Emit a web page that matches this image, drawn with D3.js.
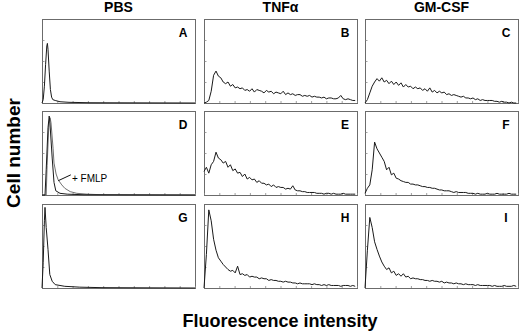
<!DOCTYPE html>
<html>
<head>
<meta charset="utf-8">
<script src="https://cdn.jsdelivr.net/npm/d3@7"></script>
<style>
    html, body { margin: 0; padding: 0; background: #fff; }
    svg { display: block; font-family: "Liberation Sans", Arial, Helvetica, sans-serif; }
    .frame { fill: none; stroke: #6b6b6b; stroke-width: 1; }
    .tick { stroke: #888; stroke-width: 0.8; }
    .curve { fill: none; stroke: #1a1a1a; stroke-width: 1; stroke-linejoin: round; }
    .curve2 { fill: none; stroke: #606060; stroke-width: 0.9; }
    .colTitle { font-size: 14px; font-weight: bold; text-anchor: middle; }
    .letter { font-size: 12px; font-weight: bold; text-anchor: middle; }
    .axisTitle { font-weight: bold; text-anchor: middle; }
</style>
</head>
<body>
<div id="chart"></div>
<script>
'use strict';

// Column titles and panel letters
const columnTitles = ['PBS', 'TNF\u03B1', 'GM-CSF'];
const panelLetters = ['A', 'B', 'C', 'D', 'E', 'F', 'G', 'H', 'I'];

// Narrow peaks: [channel, count %]
const seriesA = [[0, 0], [2, 4], [4, 20], [6, 46], [8, 68], [9, 71], [10, 64], [12, 38], [14, 16], [16, 7], [18, 4], [22, 3], [30, 1.5], [45, 0.8], [80, 0.3], [255, 0]];
const seriesD = [[0, 0], [5, 0], [7, 30], [10, 80], [12, 94], [13, 88], [17, 44], [20, 15], [23, 5], [30, 2], [42, 1], [70, 0.3], [255, 0]];
const seriesDFmlp = [[0, 0], [7, 0], [8.5, 35], [11.5, 85], [13.5, 92], [15, 86], [18.5, 55], [20, 38], [23.5, 25], [27, 18], [33, 12], [38, 8], [47, 4], [58, 2], [75, 1], [100, 0.3], [255, 0]];
const seriesG = [[0, 0], [2, 30], [4, 80], [5, 96], [7, 72], [10, 46], [13, 16], [17, 8], [22, 4], [38, 2], [63, 1], [100, 0.4], [255, 0]];

// Broad histograms: one count % every 4 channels
const seriesB = [0, 1, 3, 14, 33, 38, 32, 30, 25, 23, 25, 20, 22, 18, 19, 17,
    18, 15, 16, 14, 17, 13, 16, 15, 14, 12, 15, 13, 14, 11, 13, 12,
    11, 14, 10, 12, 10, 11, 9, 10, 10, 8, 9, 8, 9, 7, 8, 7,
    7, 6, 7, 5, 6, 6, 5, 5, 6, 9, 5, 4, 5, 4, 3, 3];
const seriesC = [0, 4, 12, 20, 25, 29, 26, 30, 25, 27, 23, 26, 22, 25, 21, 24,
    19, 22, 19, 20, 17, 19, 17, 18, 15, 17, 14, 18, 13, 15, 12, 14,
    12, 13, 10, 11, 9, 10, 9, 8, 7, 8, 6, 6, 5, 6, 4, 5,
    3, 4, 3, 3, 3, 3, 2, 2, 1, 2, 1, 1, 0, 1, 0, 0];
const seriesE = [28, 33, 26, 36, 40, 51, 44, 42, 38, 40, 33, 36, 29, 31, 26, 27,
    22, 25, 19, 21, 18, 19, 15, 17, 14, 14, 12, 13, 10, 12, 9, 10,
    9, 9, 7, 8, 7, 11, 6, 5, 5, 4, 4, 3, 3, 3, 3, 2,
    2, 2, 1, 2, 2, 1, 2, 1, 1, 1, 2, 1, 1, 1, 1, 1];
const seriesF = [2, 8, 12, 30, 63, 55, 50, 45, 40, 30, 33, 24, 26, 20, 19, 17,
    16, 15, 15, 13, 13, 12, 12, 11, 10, 10, 9, 9, 8, 8, 7, 6,
    6, 5, 5, 5, 4, 3, 4, 3, 3, 3, 3, 2, 2, 2, 1, 2,
    1, 1, 1, 2, 1, 1, 1, 2, 1, 1, 1, 1, 2, 1, 1, 1];
const seriesH = [0, 40, 93, 80, 58, 45, 36, 32, 28, 25, 22, 20, 21, 18, 26, 16,
    17, 15, 16, 13, 14, 13, 13, 11, 12, 11, 11, 9, 10, 9, 9, 8,
    8, 7, 8, 7, 7, 6, 6, 5, 6, 5, 5, 5, 5, 4, 5, 4,
    4, 3, 4, 3, 4, 3, 3, 3, 3, 2, 3, 3, 3, 2, 3, 2];
const seriesI = [0, 45, 84, 72, 55, 46, 38, 31, 26, 22, 24, 18, 20, 15, 17, 14,
    17, 13, 14, 11, 12, 11, 11, 10, 10, 9, 9, 8, 9, 8, 8, 7,
    8, 6, 7, 6, 6, 5, 6, 5, 5, 4, 5, 4, 4, 4, 3, 4,
    3, 3, 3, 3, 3, 2, 3, 2, 2, 2, 3, 2, 2, 2, 3, 2];

// Axis tick positions (channels / count %)
const xTickChannels = [0, 25.5, 51, 76.5, 102, 127.5, 153, 178.5, 204, 229.5, 255];
const yTickCounts = [25, 50, 75];

/* `````````````````````````````````\
    Class: HistogramGrid            |
 ``````````````````````````````````*/
class HistogramGrid {

    constructor(_parent) {
        this.parent = _parent;
        this.initVis();
    }

    initVis() {
        const vis = this;

        // Config svg
        vis.w = 520;
        vis.h = 333;
        vis.svg = d3.select(`#${vis.parent}`)
            .append('svg')
            .attr('width', vis.w)
            .attr('height', vis.h);

        // Panel grid
        vis.colX = [42, 204, 365];
        vis.rowY = [19, 111, 204];
        vis.pw = 153;
        vis.ph = 84;

        // Scales
        vis.x = d3.scaleLinear().domain([0, 255]).range([0, vis.pw]);
        vis.y = d3.scaleLinear().domain([0, 100]).range([vis.ph, 0]);

        // Line generators
        vis.linePairs = d3.line().x(d => vis.x(d[0])).y(d => vis.y(d[1]));
        vis.lineSeries = d3.line().x((d, i) => vis.x(i * 4)).y(d => vis.y(d));

        // Panel data
        vis.panels = [
            {curves: [{data: seriesA, pairs: true}]},
            {curves: [{data: seriesB}]},
            {curves: [{data: seriesC}]},
            {curves: [{data: seriesDFmlp, pairs: true, cls: 'curve2'}, {data: seriesD, pairs: true}]},
            {curves: [{data: seriesE}]},
            {curves: [{data: seriesF}]},
            {curves: [{data: seriesG, pairs: true}]},
            {curves: [{data: seriesH}]},
            {curves: [{data: seriesI}]}
        ];

        vis.updateVis();
    }

    updateVis() {
        const vis = this;

        // Column titles
        vis.svg.selectAll('.colTitle')
            .data(columnTitles)
            .join('text')
            .attr('class', 'colTitle')
            .attr('x', (d, i) => vis.colX[i] + vis.pw / 2)
            .attr('y', 12)
            .text(d => d);

        // Panels
        vis.panels.forEach((p, k) => {
            const col = k % 3;
            const row = Math.floor(k / 3);
            const g = vis.svg.append('g')
                .attr('transform', `translate(${vis.colX[col]},${vis.rowY[row]})`);

            // Frame
            g.append('rect')
                .attr('class', 'frame')
                .attr('x', 0.5)
                .attr('y', 0.5)
                .attr('width', vis.pw)
                .attr('height', vis.ph);

            // Bottom ticks
            g.selectAll('.xt')
                .data(xTickChannels)
                .join('line')
                .attr('class', 'tick')
                .attr('x1', d => vis.x(d) + 0.5)
                .attr('x2', d => vis.x(d) + 0.5)
                .attr('y1', vis.ph)
                .attr('y2', vis.ph - 2);

            // Left ticks
            g.selectAll('.yt')
                .data(yTickCounts)
                .join('line')
                .attr('class', 'tick')
                .attr('x1', 0.5)
                .attr('x2', 2.5)
                .attr('y1', d => vis.y(d) + 0.5)
                .attr('y2', d => vis.y(d) + 0.5);

            // Curves
            p.curves.forEach(c => {
                g.append('path')
                    .attr('class', c.cls || 'curve')
                    .attr('d', c.pairs ? vis.linePairs(c.data) : vis.lineSeries(c.data));
            });

            // Letter
            g.append('text')
                .attr('class', 'letter')
                .attr('x', vis.pw - 12)
                .attr('y', 18)
                .text(panelLetters[k]);
        });

        // FMLP label
        const gD = vis.svg.append('g')
            .attr('transform', `translate(${vis.colX[0]},${vis.rowY[1]})`);
        gD.append('line')
            .attr('x1', vis.x(27))
            .attr('y1', vis.y(17))
            .attr('x2', vis.x(48))
            .attr('y2', vis.y(24))
            .attr('stroke', '#111')
            .attr('stroke-width', 1);
        gD.append('text')
            .attr('x', vis.x(50))
            .attr('y', vis.y(16))
            .attr('font-size', 10)
            .text('+ FMLP');

        // Axis titles
        vis.svg.append('text')
            .attr('class', 'axisTitle')
            .attr('font-size', 19)
            .attr('transform', `translate(20,${vis.rowY[1] + vis.ph / 2}) rotate(-90)`)
            .text('Cell number');
        vis.svg.append('text')
            .attr('class', 'axisTitle')
            .attr('font-size', 18)
            .attr('x', 280)
            .attr('y', 327)
            .text('Fluorescence intensity');
    }
}

new HistogramGrid('chart');
</script>
</body>
</html>
